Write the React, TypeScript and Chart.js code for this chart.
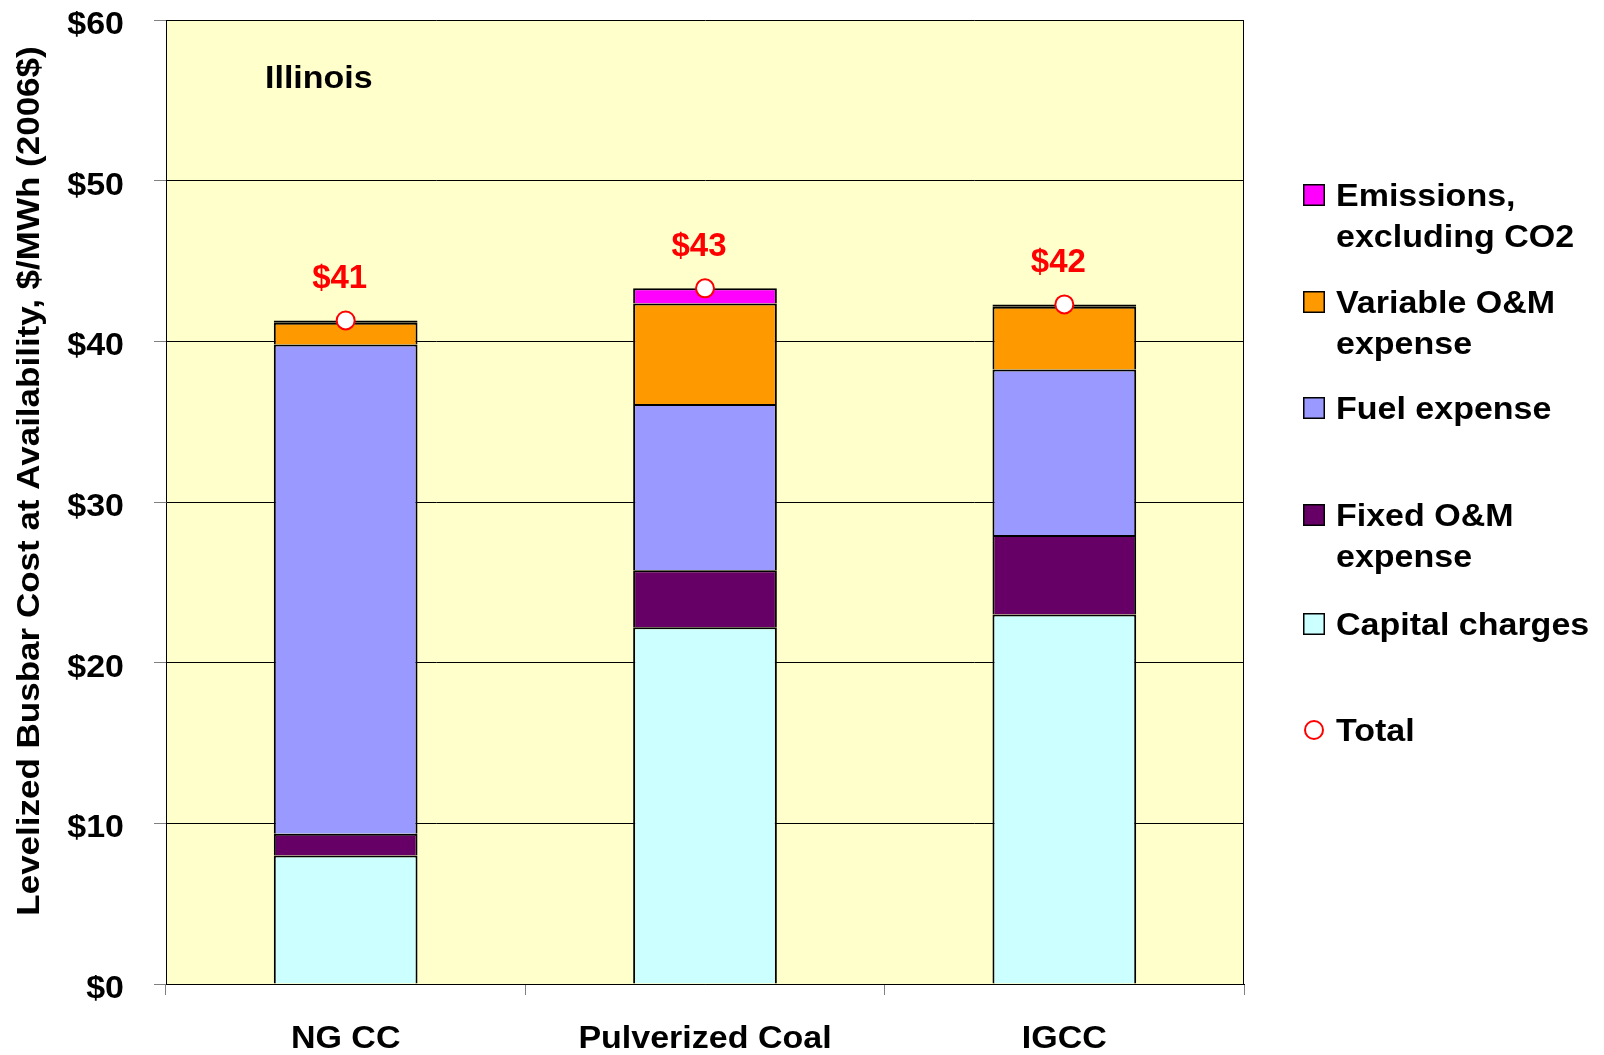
import React, { useEffect, useRef } from 'react';
import { Chart, registerables } from 'chart.js';

Chart.register(...registerables);

// ---- data ----
const categories = ['NG CC', 'Pulverized Coal', 'IGCC'];
const capitalCharges = [8.0, 22.2, 23.0];
const fixedOM = [1.35, 3.55, 4.95];
const fuelExpense = [30.45, 10.35, 10.3];
const variableOM = [1.35, 6.25, 3.9];
const emissionsExCO2 = [0.15, 0.95, 0.15];
const totals = [41.3, 43.3, 42.3];
const totalLabels = ['$41', '$43', '$42'];
const yTickLabels = ['$0', '$10', '$20', '$30', '$40', '$50', '$60'];
const yAxisTitle = 'Levelized Busbar Cost at Availability, $/MWh (2006$)';
const panelLabel = 'Illinois';

const seriesNames = ['Capital charges', 'Fixed O&M expense', 'Fuel expense', 'Variable O&M expense', 'Emissions, excluding CO2'];
const seriesLegendLines = [['Capital charges'], ['Fixed O&M', 'expense'], ['Fuel expense'], ['Variable O&M', 'expense'], ['Emissions,', 'excluding CO2']];
const seriesValues = [capitalCharges, fixedOM, fuelExpense, variableOM, emissionsExCO2];
const seriesColors = ['#CCFFFF', '#660066', '#9999FF', '#FF9900', '#FF00FF'];
const totalName = 'Total';

const FONT = '"Liberation Sans", Arial, Helvetica, sans-serif';
const K = 0.9; // vertical squash of the reference's wide text

// legend layout (baselines of first text line, top to bottom)
const legendBaselines = [206, 313, 419, 526, 635, 741];
const legendLineGap = 41;

function stretchedText(ctx: CanvasRenderingContext2D, text: string, x: number, y: number, size: number, align: CanvasTextAlign) {
  ctx.save();
  ctx.translate(x, y);
  ctx.scale(1, K);
  ctx.font = `bold ${size}px ${FONT}`;
  ctx.textAlign = align;
  ctx.textBaseline = 'alphabetic';
  ctx.fillStyle = '#000000';
  ctx.fillText(text, 0, 0);
  ctx.restore();
}

const decorPlugin = {
  id: 'decor',
  beforeDraw(chart: any) {
    const { ctx, chartArea: a } = chart;
    ctx.save();
    ctx.fillStyle = '#FFFFCC';
    ctx.fillRect(a.left, a.top, a.right - a.left, a.bottom - a.top);
    ctx.restore();
  },
  beforeDatasetsDraw(chart: any) {
    const { ctx, chartArea: a } = chart;
    ctx.save();
    ctx.strokeStyle = '#000000';
    ctx.lineWidth = 1;
    ctx.beginPath();
    ctx.moveTo(a.right - 0.5, a.top);
    ctx.lineTo(a.right - 0.5, a.bottom);
    ctx.stroke();
    ctx.restore();
  },
  afterDraw(chart: any) {
    const { ctx } = chart;
    const xs = chart.scales.x;
    const ys = chart.scales.y;

    // y tick labels
    ys.ticks.forEach((t: any, i: number) => {
      const py = ys.getPixelForValue(t.value);
      stretchedText(ctx, yTickLabels[i], 124, py + 14, 34, 'right');
    });
    // x category labels
    categories.forEach((c, i) => {
      stretchedText(ctx, c, xs.getPixelForValue(i), 1048, 34, 'center');
    });
    // panel label
    stretchedText(ctx, panelLabel, 265, 88, 34, 'left');

    // y axis title
    ctx.save();
    ctx.translate(39, 481);
    ctx.rotate(-Math.PI / 2);
    ctx.scale(1, K);
    ctx.font = `bold 35px ${FONT}`;
    ctx.textAlign = 'center';
    ctx.textBaseline = 'alphabetic';
    ctx.fillStyle = '#000000';
    ctx.fillText(yAxisTitle, 0, 0);
    ctx.restore();

    // total labels
    const meta = chart.getDatasetMeta(seriesValues.length);
    meta.data.forEach((pt: any, i: number) => {
      ctx.save();
      ctx.font = `bold 33px ${FONT}`;
      ctx.fillStyle = '#FF0000';
      ctx.textAlign = 'center';
      ctx.textBaseline = 'alphabetic';
      ctx.fillText(totalLabels[i], pt.x - 6, pt.y - 32);
      ctx.restore();
    });

    // legend
    const order = [4, 3, 2, 1, 0];
    order.forEach((si, idx) => {
      const b = legendBaselines[idx];
      ctx.save();
      ctx.fillStyle = seriesColors[si];
      ctx.fillRect(1303, b - 22, 22, 22);
      ctx.strokeStyle = '#000000';
      ctx.lineWidth = 1.5;
      ctx.strokeRect(1303.75, b - 21.25, 20.5, 20.5);
      ctx.restore();
      seriesLegendLines[si].forEach((line, j) => {
        stretchedText(ctx, line, 1336, b + j * legendLineGap, 34, 'left');
      });
    });
    const bt = legendBaselines[order.length];
    ctx.save();
    ctx.beginPath();
    ctx.arc(1314, bt - 11, 9, 0, Math.PI * 2);
    ctx.fillStyle = '#FFFFFF';
    ctx.fill();
    ctx.strokeStyle = '#FF0000';
    ctx.lineWidth = 2;
    ctx.stroke();
    ctx.restore();
    stretchedText(ctx, totalName, 1336, bt, 34, 'left');
  },
};

export default function App() {
  const ref = useRef<HTMLCanvasElement>(null);

  useEffect(() => {
    document.body.style.margin = '0';
    const barSets = seriesValues.map((vals, i) => ({
      type: 'bar' as const,
      label: seriesNames[i],
      data: vals,
      backgroundColor: seriesColors[i],
      borderColor: '#000000',
      borderWidth: 2,
      // very thin segments render as a solid dark edge, as in the original
      borderSkipped: (c: any) => (typeof c.raw === 'number' && c.raw < 0.5 ? false : 'start'),
      categoryPercentage: 1.0,
      barPercentage: 0.4,
      stack: 'costs',
      order: 1,
    }));
    const chart = new Chart(ref.current as HTMLCanvasElement, {
      type: 'bar',
      data: {
        labels: categories,
        datasets: [
          ...barSets,
          {
            type: 'line' as const,
            label: totalName,
            data: totals,
            showLine: false,
            pointRadius: 9,
            pointHoverRadius: 9,
            pointBorderWidth: 2,
            pointBackgroundColor: '#FFFFFF',
            pointBorderColor: '#FF0000',
            stack: 'total',
            order: 0,
          } as any,
        ],
      },
      options: {
        responsive: false,
        animation: false,
        devicePixelRatio: 1,
        layout: { padding: { left: 0, right: 360, top: 20, bottom: 0 } },
        plugins: { legend: { display: false }, tooltip: { enabled: false } },
        scales: {
          x: {
            type: 'category',
            stacked: true,
            offset: true,
            ticks: { display: false },
            grid: {
              offset: true,
              drawOnChartArea: false,
              drawTicks: true,
              tickLength: 11,
              tickColor: '#808080',
            },
            border: { display: true, color: '#000000', width: 1 },
            afterFit: (s: any) => { s.height = 71; },
          },
          y: {
            stacked: true,
            min: 0,
            max: 60,
            ticks: { display: false, stepSize: 10 },
            grid: {
              color: '#000000',
              lineWidth: 1,
              drawTicks: true,
              tickLength: 12,
              tickColor: '#808080',
            },
            border: { display: true, color: '#000000', width: 1 },
            afterFit: (s: any) => { s.width = 166; },
          },
        },
      },
      plugins: [decorPlugin],
    });
    return () => chart.destroy();
  }, []);

  return (
    <div style={{ width: 1604, height: 1055, background: '#FFFFFF' }}>
      <canvas ref={ref} width={1604} height={1055} style={{ display: 'block', width: 1604, height: 1055 }} />
    </div>
  );
}
